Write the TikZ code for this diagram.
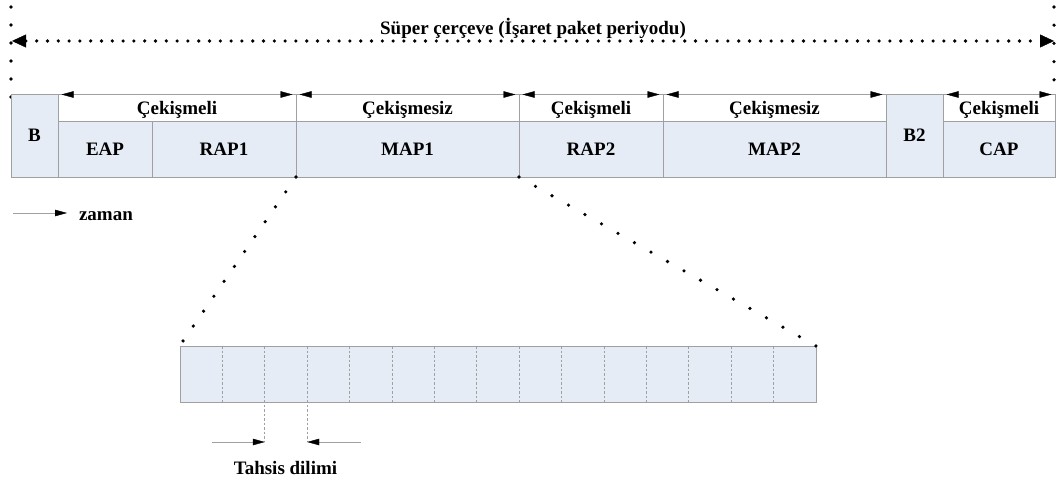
\documentclass[tikz,border=0pt]{standalone}
\usepackage{fontspec}
\setmainfont{Liberation Serif}
\usetikzlibrary{arrows.meta,calc}
\definecolor{slotfill}{RGB}{230,236,246}
\definecolor{edge}{RGB}{160,160,160}
\begin{document}
\begin{tikzpicture}[x=1pt,y=-1pt,
  lbl/.style={font=\bfseries\fontsize{19}{22}\selectfont, text height=13pt, text depth=0pt, inner sep=0pt, outer sep=0pt},
  seg/.style={lbl, draw=edge, fill=slotfill, line width=0.9pt},
  hdr/.style={lbl, draw=edge, fill=white, line width=0.9pt},
  tipsmall/.style={-{Triangle[length=12pt,width=6.5pt,color=black,line width=0.4pt]}},
  span/.style={draw=edge, line width=0.9pt,
    {Triangle[length=12pt,width=6.5pt,color=black,line width=0.4pt]}-{Triangle[length=12pt,width=6.5pt,color=black,line width=0.4pt]},
    shorten <=3.5pt, shorten >=3.5pt},
  dotline/.style={line width=3.6pt, line cap=round, dash pattern=on 0pt off #1},
  divider/.style={draw=edge, line width=0.8pt, dash pattern=on 2.5pt off 2pt},
  pointer/.style={draw=edge, line width=0.9pt, tipsmall},
]
\useasboundingbox (0,0) rectangle (1057,481);

% superframe: dotted double arrow and its end markers
\coordinate (sfL) at (12,41);
\coordinate (sfR) at (1054,41);
\coordinate (vLt) at (11,7);
\coordinate (vLb) at (11,97);
\coordinate (vRt) at (1054,7);
\coordinate (vRb) at (1054,116.2);
\draw[dotline=18pt] (vLt) -- (vLb);
\draw[dotline=18.2pt] (vRt) -- (vRb);
\draw[dotline=10.8pt,
  {Triangle[length=14pt,width=13pt,line width=0.4pt]}-{Triangle[length=14pt,width=13pt,line width=0.4pt]}]
  (sfL) -- (sfR);
\node[lbl, anchor=base] (title) at (533,35) {Süper çerçeve (İşaret paket periyodu)};

% header cells (access type)
\node[hdr, minimum width=238pt, minimum height=26.5pt] (H1) at (177,107.75) {Çekişmeli};
\node[hdr, minimum width=223pt, minimum height=26.5pt] (H2) at (407.5,107.75) {Çekişmesiz};
\node[hdr, minimum width=144pt, minimum height=26.5pt] (H3) at (591,107.75) {Çekişmeli};
\node[hdr, minimum width=223pt, minimum height=26.5pt] (H4) at (774.5,107.75) {Çekişmesiz};
\node[hdr, minimum width=112pt, minimum height=26.5pt] (H5) at (999,107.75) {Çekişmeli};

% superframe periods
\node[seg, minimum width=47pt, minimum height=83pt] (B) at (34.5,135.5) {B};
\node[seg, minimum width=94pt, minimum height=56pt] (EAP) at (105,149) {EAP};
\node[seg, minimum width=144pt, minimum height=56pt] (RAP1) at (224,149) {RAP1};
\node[seg, minimum width=223pt, minimum height=56pt] (MAP1) at (407.5,149) {MAP1};
\node[seg, minimum width=144pt, minimum height=56pt] (RAP2) at (591,149) {RAP2};
\node[seg, minimum width=223pt, minimum height=56pt] (MAP2) at (774.5,149) {MAP2};
\node[seg, minimum width=57pt, minimum height=83pt] (B2) at (914.5,135.5) {B2};
\node[seg, minimum width=112pt, minimum height=56pt] (CAP) at (999,149) {CAP};

% spans over the header cells
\foreach \h in {H1,H2,H3,H4,H5}
  \draw[span] (\h.north west) -- (\h.north east);

% time direction
\coordinate (z0) at (13,213);
\coordinate (z1) at (67,213);
\draw[pointer] (z0) -- (z1);
\node[lbl, anchor=base west] (zaman) at (79,221) {zaman};

% allocation slots of MAP1
\node[seg, minimum width=636pt, minimum height=56pt] (slots) at (498,374) {};
\foreach \k in {1,4,5,6,7,8,9,10,11,12,13,14}
  \draw[divider] ($(slots.north west)+(42.4*\k,0)$) -- ($(slots.south west)+(42.4*\k,0)$);
\coordinate (c2) at ($(slots.south west)+(84.8,40)$);
\coordinate (c3) at ($(slots.south west)+(127.2,40)$);
\draw[divider] ($(slots.north west)+(84.8,0)$) -- (c2);
\draw[divider] ($(slots.north west)+(127.2,0)$) -- (c3);

% zoom lines from MAP1 to the slots
\draw[dotline=18.1pt] (MAP1.south west) -- ($(slots.north west)+(3,-5)$);
\draw[dotline=18.98pt] (MAP1.south east) -- (slots.north east);

% slot width markers
\coordinate (tL) at (212,442);
\coordinate (tR) at (361,442);
\draw[pointer] (tL) -- (c2);
\draw[pointer] (tR) -- (c3);
\node[lbl, anchor=base] (tahsis) at (285.5,474) {Tahsis dilimi};
\end{tikzpicture}
\end{document}
